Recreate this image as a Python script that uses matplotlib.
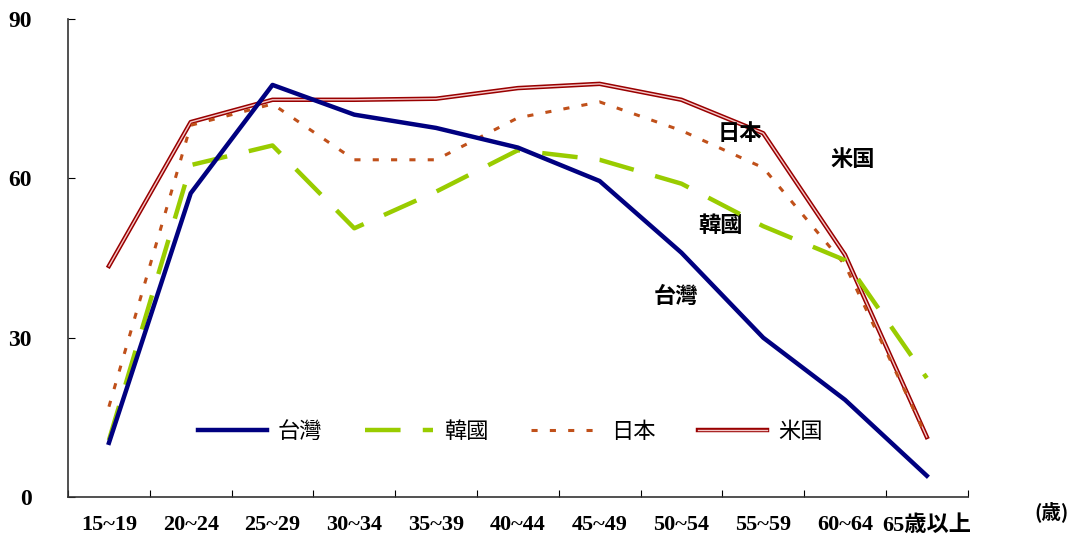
import numpy as np
import matplotlib
matplotlib.use("Agg")
import matplotlib.pyplot as plt
import matplotlib.patheffects as pe

plt.rcParams['font.family'] = ['Liberation Serif', 'Noto Sans CJK JP', 'DejaVu Sans']

# age groups and labour participation rates (%)
ages = ['15~19', '20~24', '25~29', '30~34', '35~39', '40~44',
        '45~49', '50~54', '55~59', '60~64', '65歳以上']
taiwan = [10.2, 57.2, 77.6, 72.0, 69.5, 65.8, 59.5, 46.0, 30.0, 18.3, 4.0]
korea = [10.7, 62.5, 66.2, 50.6, 57.5, 65.3, 63.5, 59.0, 51.0, 44.6, 22.4]
japan = [17.0, 70.0, 74.0, 63.5, 63.5, 71.4, 74.4, 69.0, 62.0, 43.7, 11.3]
usa = [43.5, 70.6, 74.8, 74.8, 75.0, 77.0, 77.8, 74.8, 68.5, 45.6, 11.3]
names = ['台灣', '韓國', '日本', '米国']

fig = plt.figure(figsize=(10.8, 5.37), dpi=100)
ax = fig.add_axes([0.063, 0.0745, 0.833, 0.89])

x = np.arange(len(ages))
ax.plot(x, taiwan, color='#000080', lw=3.2, label=names[0], zorder=5)
ax.plot(x, korea, color='#99CC00', lw=3.2, dashes=(8, 5), label=names[1], zorder=4)
ax.plot(x, japan, color='#C0501A', lw=2.2, dashes=(2, 4), label=names[2], zorder=3)
ax.plot(x, usa, color='#F4C8C8', lw=1.0, label=names[3], zorder=2,
        path_effects=[pe.Stroke(linewidth=3.2, foreground='#990000'), pe.Normal()])

ax.set_xlim(-0.5, len(ages) - 0.5)
ax.set_ylim(0, 90)
ax.set_yticks([0, 30, 60, 90])
ax.tick_params(axis='y', direction='in', length=5, pad=26, labelsize=17)
for t in ax.get_yticklabels():
    t.set_fontweight('bold')

# category axis: tick marks between categories, labels at centers
ax.set_xticks(np.arange(-0.5, len(ages), 1.0))
ax.set_xticklabels([])
ax.tick_params(axis='x', which='major', direction='in', length=5)
ax.set_xticks(x, minor=True)
ax.set_xticklabels(ages, minor=True, fontsize=16, fontweight='bold')
ax.tick_params(axis='x', which='minor', length=0, pad=13)

ax.spines['top'].set_visible(False)
ax.spines['right'].set_visible(False)
for s in ['left', 'bottom']:
    ax.spines[s].set_color('#333333')
    ax.spines[s].set_linewidth(1.2)

ax.legend(loc='center left', bbox_to_anchor=(0.122, 0.138), ncol=4, frameon=False,
          handlelength=3.1, columnspacing=1.9, handletextpad=0.5,
          prop={'family': ['Noto Sans CJK JP'], 'size': 16})

# series labels inside the plot
lab_font = dict(fontsize=16, fontweight='bold', family=['Noto Sans CJK JP'],
                ha='center', va='center')
ax.text(7.72, 68.5, names[2], **lab_font)
ax.text(9.09, 63.5, names[3], **lab_font)
ax.text(7.48, 51.2, names[1], **lab_font)
ax.text(6.93, 37.7, names[0], **lab_font)

fig.text(0.974, 0.047, '(歳)', fontsize=14, fontweight='bold',
         family=['Noto Sans CJK JP'], ha='center', va='center')

fig.savefig('out.png', dpi=100)
